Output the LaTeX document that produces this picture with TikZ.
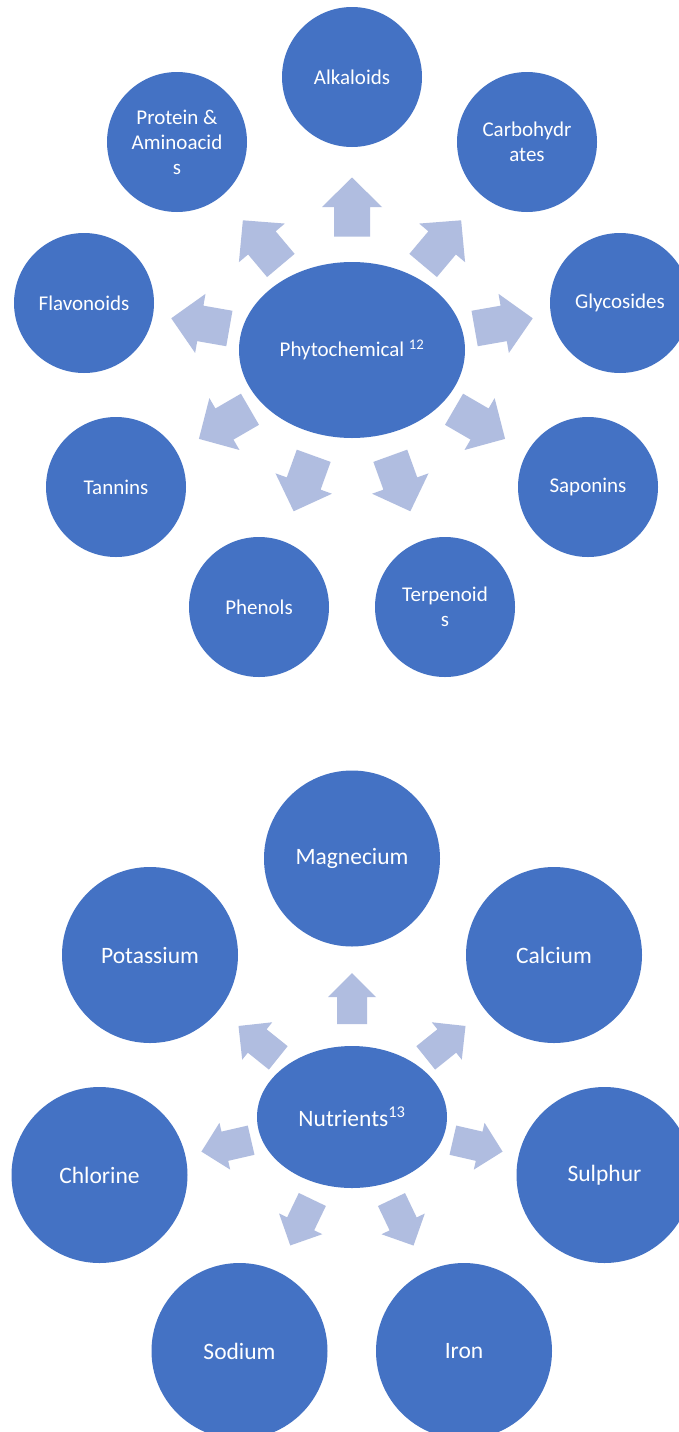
\documentclass[tikz,border=0pt]{standalone}
\usepackage{fontspec}
\setmainfont{Carlito}
\usetikzlibrary{calc,shapes.geometric}
\definecolor{circblue}{HTML}{4472C4}
\definecolor{arrowblue}{HTML}{B0BDE0}
\newcommand\placearrow[4]{%
  \path let \p1=($(#3)-(#2)$), \n1={atan2(\y1,\x1)} in
    ($(#2)!#4pt!(#3)$) pic[rotate=\n1]{#1};}
\begin{document}
\begin{tikzpicture}[x=1pt,y=-1pt,
  sat/.style={circle, fill=circblue, text=white, align=center, inner sep=0pt},
  smallsat/.style={sat, minimum size=140pt, font=\fontsize{21}{25}\selectfont},
  bigsat/.style={sat, minimum size=176pt, font=\fontsize{23.5}{28}\selectfont},
  hubone/.style={ellipse, fill=circblue, text=white, inner sep=0pt,
    minimum width=226pt, minimum height=176pt, font=\fontsize{21}{25}\selectfont},
  hubtwo/.style={ellipse, fill=circblue, text=white, inner sep=0pt,
    minimum width=190pt, minimum height=142pt, font=\fontsize{23.5}{28}\selectfont},
  pics/toparrow/.style={code={\fill[arrowblue] (-29.5,-18) -- (0,-18) -- (0,-30) -- (29.5,0) -- (0,30) -- (0,18) -- (-29.5,18) -- cycle;}},
  pics/botarrow/.style={code={\fill[arrowblue] (-25.5,-15) -- (1.5,-15) -- (1.5,-24) -- (25.5,0) -- (1.5,24) -- (1.5,15) -- (-25.5,15) -- cycle;}}
]
\useasboundingbox (0,0) rectangle (679,1432);
\fill[white] (0,0) rectangle (679,1432);
\clip (0,0) rectangle (679,1432);

% top diagram
\node[hubone] (phyto) at (352,350) {Phytochemical \textsuperscript{12}};
\node[smallsat] (alk) at (352,77) {Alkaloids};
\node[smallsat] (carb) at (527,142) {Carbohydr\\ates};
\node[smallsat] (gly) at (620,303) {Glycosides};
\node[smallsat] (sap) at (588,487) {Saponins};
\node[smallsat] (ter) at (445,607) {Terpenoid\\s};
\node[smallsat] (phe) at (259,607) {Phenols};
\node[smallsat] (tan) at (116,487) {Tannins};
\node[smallsat] (fla) at (84,303) {Flavonoids};
\node[smallsat] (pro) at (177,142) {Protein \&\\Aminoacid\\s};

\placearrow{toparrow}{phyto}{alk}{143}
\placearrow{toparrow}{phyto}{carb}{140}
\placearrow{toparrow}{phyto}{pro}{140}
\placearrow{toparrow}{phyto}{gly}{154}
\placearrow{toparrow}{phyto}{fla}{154}
\placearrow{toparrow}{phyto}{sap}{147.5}
\placearrow{toparrow}{phyto}{tan}{147.5}
\placearrow{toparrow}{phyto}{ter}{142}
\placearrow{toparrow}{phyto}{phe}{142}

% bottom diagram
\node[hubtwo] (nutr) at (352,1117) {Nutrients\textsuperscript{13}};
\node[bigsat] (mag) at (352,858.5) {Magnecium};
\node[bigsat] (cal) at (554,955) {Calcium};
\node[bigsat] (sul) at (604.5,1175) {Sulphur};
\node[bigsat] (iro) at (464,1351) {Iron};
\node[bigsat] (sod) at (239.5,1351) {Sodium};
\node[bigsat] (chl) at (99.5,1175) {Chlorine};
\node[bigsat] (pot) at (150,955) {Potassium};

\placearrow{botarrow}{nutr}{mag}{118.5}
\placearrow{botarrow}{nutr}{cal}{120}
\placearrow{botarrow}{nutr}{pot}{120}
\placearrow{botarrow}{nutr}{sul}{129}
\placearrow{botarrow}{nutr}{chl}{129}
\placearrow{botarrow}{nutr}{iro}{117}
\placearrow{botarrow}{nutr}{sod}{117}
\end{tikzpicture}
\end{document}
